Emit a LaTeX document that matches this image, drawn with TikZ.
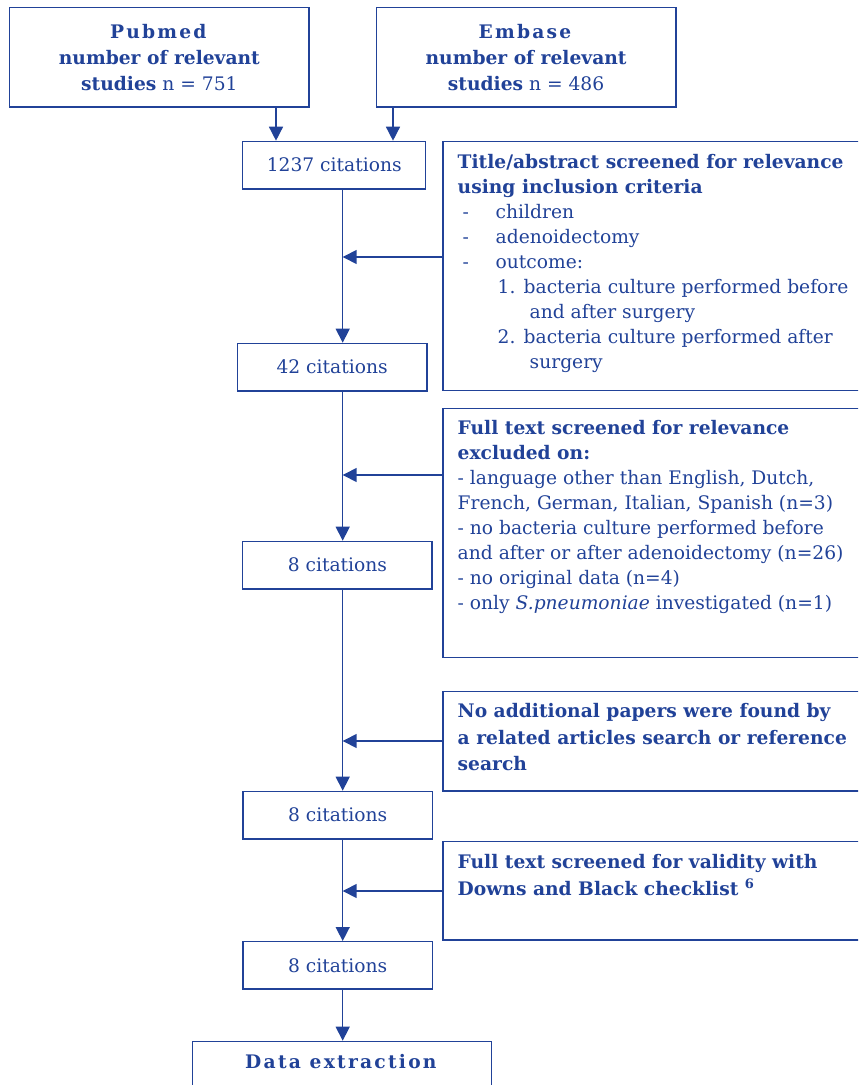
\documentclass[tikz,border=0pt]{standalone}
\usepackage{fontspec}
\setmainfont{DejaVu Serif}
\usepackage{xcolor}
\usetikzlibrary{calc,arrows.meta,positioning}
\definecolor{flowblue}{RGB}{33,66,152}
\newcommand{\spaced}[1]{{\addfontfeatures{LetterSpace=12}#1}}
\newcommand{\dashitem}[1]{\hspace*{3.75pt}\makebox[24.75pt][l]{-}#1}
\newcommand{\numitem}[2]{\hspace*{30pt}\makebox[19.5pt][l]{#1}#2}

\begin{document}
\begin{tikzpicture}[x=0.75pt,y=-0.75pt,>={Triangle[length=10.5pt,width=10.5pt]},
     font=\fontsize{14}{18.75}\selectfont,color=flowblue,line width=1.1pt,
     srcbox/.style={draw,rectangle,align=center,inner sep=0pt,anchor=north west,
       minimum width=224.5pt,minimum height=74.5pt},
     citbox/.style={draw,rectangle,inner sep=0pt,anchor=north west,minimum height=35.5pt},
     sidebox/.style={draw,rectangle,inner sep=0pt,anchor=north west,minimum width=325pt},
     sidetext/.style={anchor=north west,align=left,inner sep=0pt}]
  \useasboundingbox (0,0) rectangle (858,1085);
  \clip (0,0) rectangle (858,1085);

  % databases
  \node[srcbox] (pubmed) at (9,7) {\textbf{\spaced{Pubmed}}\\[1pt] \textbf{number of relevant}\\[1pt] \textbf{studies} n = 751};
  \node[srcbox] (embase) at (375.7,7) {\textbf{\spaced{Embase}}\\[1pt] \textbf{number of relevant}\\[1pt] \textbf{studies} n = 486};

  % main column
  \node[citbox,minimum width=137.25pt] (c1237) at (242,140.7) {1237 citations};
  \node[citbox,minimum width=142pt] (c42) at (236.7,342.7) {42 citations};
  \node[citbox,minimum width=142pt] (c8a) at (242,540.7) {8 citations};
  \node[citbox,minimum width=142pt] (c8b) at (242.3,790.7) {8 citations};
  \node[citbox,minimum width=142pt] (c8c) at (242.3,941) {8 citations};
  \node[draw,rectangle,anchor=north,minimum width=224.4pt,inner ysep=5pt,
        text height=15pt,text depth=30pt] (extract) at (342,1040.7) {\textbf{\spaced{Data extraction}}};

  % screening steps
  \node[sidebox,minimum height=186.75pt] (title) at (442.3,140.5) {};
  \node[sidetext] (titletxt) at (457,154) {\textbf{Title/abstract screened for relevance}\\
    \textbf{using inclusion criteria}\\
    \dashitem{children}\\
    \dashitem{adenoidectomy}\\
    \dashitem{outcome:}\\
    \numitem{1.}{bacteria culture performed before}\\
    \hspace*{54pt}and after surgery\\
    \numitem{2.}{bacteria culture performed after}\\
    \hspace*{54pt}surgery};
  \node[sidebox,minimum height=187pt] (fulltext) at (442.3,407.5) {};
  \node[sidetext] (fulltexttxt) at (457,420) {\textbf{Full text screened for relevance}\\
    \textbf{excluded on:}\\
    - language other than English, Dutch,\\
    French, German, Italian, Spanish (n=3)\\
    - no bacteria culture performed before\\
    and after or after adenoidectomy (n=26)\\
    - no original data (n=4)\\
    - only \textit{S.pneumoniae} investigated (n=1)};
  \node[sidebox,minimum height=74.5pt] (extra) at (442.3,690.7) {};
  \node[sidetext] (extratxt) at (457,703) {\textbf{No additional papers were found by}\\[1pt]
    \textbf{a related articles search or reference}\\[1pt]
    \textbf{search}};
  \node[sidebox,minimum height=73.7pt] (valid) at (442.3,841) {};
  \node[sidetext] (validtxt) at (457,854) {\textbf{Full text screened for validity with}\\[1pt]
    \textbf{Downs and Black checklist \textsuperscript{6}}};

  % connectors
  \coordinate (inA) at (276,0);
  \coordinate (inB) at (393,0);
  \coordinate (spine) at (342.7,0);
  \coordinate (j1) at (342.7,257);
  \coordinate (j2) at (342.7,475);
  \coordinate (j3) at (342.7,741);
  \coordinate (j4) at (342.7,891);
  \draw[->] (pubmed.south -| inA) -- (c1237.north -| inA);
  \draw[->] (embase.south -| inB) -- (c1237.north -| inB);
  \draw[->] (c1237.south -| spine) -- (c42.north -| spine);
  \draw[->] (c42.south -| spine) -- (c8a.north -| spine);
  \draw[->] (c8a.south -| spine) -- (c8b.north -| spine);
  \draw[->] (c8b.south -| spine) -- (c8c.north -| spine);
  \draw[->] (c8c.south -| spine) -- (extract.north -| spine);
  \foreach \s/\j in {title/j1,fulltext/j2,extra/j3,valid/j4}
    \draw[->] (\s.west |- \j) -- (\j);
\end{tikzpicture}
\end{document}
